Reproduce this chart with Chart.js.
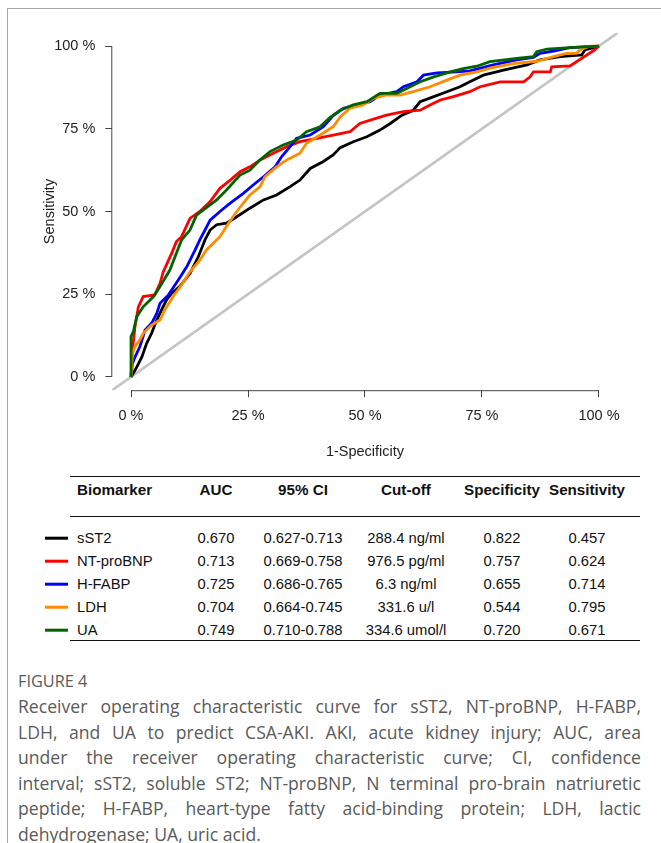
<!DOCTYPE html>
<html>
<head>
<meta charset="utf-8">
<script src="https://cdn.jsdelivr.net/npm/chart.js@4.4.1/dist/chart.umd.min.js"></script>
<style>
  html,body{margin:0;padding:0;background:#fff;}
  body{width:661px;height:843px;position:relative;overflow:hidden;font-family:"Liberation Sans",Arial,sans-serif;}
  #frame{position:absolute;left:7px;top:8px;right:-5px;bottom:-5px;border-top:1px solid #a8a8a8;border-left:1px solid #a8a8a8;}
  #rocChart{position:absolute;left:0;top:0;}
  .rule{position:absolute;left:70px;width:570px;height:0;border-top:1.6px solid #111;}
  .cell{position:absolute;font-size:14.8px;color:#111;line-height:18px;white-space:nowrap;transform:translateY(-50%);}
  .hd{font-weight:bold;font-size:15.2px;}
  .c{transform:translate(-50%,-50%);}
  .key{position:absolute;left:45px;width:23px;height:2.6px;transform:translateY(-50%);}
  #figLabel{position:absolute;left:18px;top:671px;line-height:20px;font-family:"Open Sans",sans-serif;font-size:16.3px;color:#5a5a5a;}
  #caption{position:absolute;left:18px;top:694px;width:623px;font-family:"Open Sans",sans-serif;font-size:17.6px;line-height:25.6px;color:#5a5a5a;}
  #caption div{text-align:justify;text-align-last:justify;white-space:nowrap;}
  #caption div:last-child{text-align-last:left;}
</style>
</head>
<body>
<div id="frame"></div>
<canvas id="rocChart" width="661" height="470"></canvas>
<div id="table"></div>
<div id="figLabel">FIGURE 4</div>
<div id="caption">
  <div>Receiver operating characteristic curve for sST2, NT-proBNP, H-FABP,</div>
  <div>LDH, and UA to predict CSA-AKI. AKI, acute kidney injury; AUC, area</div>
  <div>under the receiver operating characteristic curve; CI, confidence</div>
  <div>interval; sST2, soluble ST2; NT-proBNP, N terminal pro-brain natriuretic</div>
  <div>peptide; H-FABP, heart-type fatty acid-binding protein; LDH, lactic</div>
  <div>dehydrogenase; UA, uric acid.</div>
</div>
<script>
// biomarkers, in legend order
const markers = ['sST2','NT-proBNP','H-FABP','LDH','UA'];
const colors = ['#000000','#ff0000','#0000ff','#ff8c00','#006400'];

// ROC curves (1-specificity, sensitivity)
const sst2X = [0,0.0085,0.016,0.023,0.033,0.044,0.055,0.065,0.076,0.087,0.104,0.126,0.144,0.158,0.169,0.183,0.204,0.226,0.254,0.283,0.311,0.340,0.361,0.383,0.411,0.432,0.447,0.475,0.504,0.532,0.554,0.579,0.603,0.618,0.647,0.675,0.703,0.724,0.753,0.796,0.846,0.874,0.917,0.963,0.970,1.0];
const sst2Y = [0,0.02,0.04,0.06,0.10,0.132,0.172,0.202,0.233,0.253,0.273,0.313,0.364,0.414,0.444,0.460,0.465,0.484,0.510,0.535,0.550,0.575,0.595,0.630,0.651,0.671,0.693,0.711,0.726,0.746,0.766,0.791,0.806,0.832,0.847,0.862,0.877,0.892,0.912,0.927,0.943,0.958,0.968,0.973,0.988,1.0];

const bnpX = [0,0.003,0.0085,0.0157,0.026,0.051,0.062,0.069,0.087,0.097,0.108,0.126,0.147,0.169,0.190,0.212,0.233,0.254,0.276,0.304,0.333,0.361,0.397,0.432,0.468,0.489,0.525,0.546,0.582,0.618,0.639,0.661,0.689,0.724,0.746,0.789,0.839,0.853,0.860,0.896,0.899,0.938,0.991,1.0];
const bnpY = [0,0.08,0.152,0.212,0.243,0.248,0.283,0.318,0.374,0.409,0.424,0.479,0.500,0.530,0.570,0.595,0.620,0.635,0.656,0.676,0.696,0.711,0.721,0.731,0.741,0.766,0.782,0.791,0.802,0.806,0.822,0.837,0.847,0.862,0.877,0.892,0.892,0.907,0.922,0.922,0.937,0.940,0.988,1.0];

const fabpX = [0,0.003,0.0085,0.019,0.030,0.044,0.055,0.062,0.080,0.101,0.119,0.137,0.147,0.158,0.169,0.190,0.212,0.240,0.261,0.283,0.308,0.322,0.340,0.354,0.383,0.411,0.432,0.454,0.482,0.511,0.532,0.568,0.582,0.611,0.625,0.654,0.696,0.724,0.774,0.824,0.860,0.874,0.903,0.938,1.0];
const fabpY = [0,0.04,0.06,0.092,0.142,0.162,0.192,0.223,0.248,0.293,0.333,0.384,0.414,0.444,0.474,0.500,0.525,0.555,0.580,0.605,0.635,0.666,0.696,0.721,0.731,0.756,0.790,0.812,0.822,0.832,0.852,0.862,0.877,0.892,0.912,0.919,0.922,0.925,0.943,0.958,0.966,0.978,0.985,0.995,1.0];

const ldhX = [0,0.003,0.0085,0.019,0.026,0.044,0.062,0.072,0.090,0.108,0.126,0.147,0.161,0.190,0.208,0.226,0.240,0.254,0.276,0.286,0.311,0.333,0.361,0.375,0.404,0.432,0.447,0.468,0.496,0.518,0.546,0.575,0.603,0.639,0.675,0.703,0.739,0.767,0.817,0.867,0.903,0.931,0.952,0.959,0.981,1.0];
const ldhY = [0,0.07,0.092,0.112,0.132,0.157,0.172,0.202,0.243,0.278,0.318,0.353,0.384,0.424,0.464,0.500,0.525,0.550,0.575,0.605,0.635,0.656,0.676,0.706,0.731,0.756,0.786,0.812,0.822,0.842,0.852,0.852,0.862,0.877,0.897,0.912,0.922,0.933,0.947,0.954,0.968,0.978,0.978,0.988,1.0,1.0];

const uaX = [0,0,0.005,0.0122,0.026,0.048,0.062,0.083,0.097,0.108,0.126,0.140,0.154,0.183,0.204,0.233,0.254,0.276,0.297,0.325,0.354,0.375,0.404,0.425,0.447,0.475,0.504,0.532,0.568,0.589,0.618,0.647,0.682,0.710,0.739,0.767,0.824,0.860,0.867,0.889,0.938,1.0];
const uaY = [0,0.122,0.137,0.182,0.212,0.243,0.273,0.323,0.374,0.414,0.444,0.489,0.504,0.535,0.565,0.610,0.625,0.656,0.681,0.701,0.716,0.741,0.756,0.784,0.806,0.822,0.832,0.857,0.857,0.872,0.892,0.907,0.922,0.932,0.939,0.953,0.963,0.968,0.983,0.991,0.995,1.0];

// chance line (y = x) across the whole plot region
const chanceLine = [-0.04, 1.04];
const axisTicks = [0, 0.25, 0.5, 0.75, 1];

// table
const aucVals = ['0.670','0.713','0.725','0.704','0.749'];
const ciVals = ['0.627-0.713','0.669-0.758','0.686-0.765','0.664-0.745','0.710-0.788'];
const cutoffs = ['288.4 ng/ml','976.5 pg/ml','6.3 ng/ml','331.6 u/l','334.6 umol/l'];
const specVals = ['0.822','0.757','0.655','0.544','0.720'];
const sensVals = ['0.457','0.624','0.714','0.795','0.671'];

function pts(xs, ys){ return xs.map((x,i)=>({x:x, y:ys[i]})); }

const curves = [[sst2X,sst2Y],[bnpX,bnpY],[fabpX,fabpY],[ldhX,ldhY],[uaX,uaY]];
const datasets = curves.map((c,i)=>({
  label: markers[i],
  data: pts(c[0], c[1]),
  borderColor: colors[i],
  borderWidth: 2.8,
  pointRadius: 0,
  tension: 0,
  order: 5 - i
}));
datasets.push({
  label: 'chance',
  data: chanceLine.map(v=>({x:v, y:v})),
  borderColor: '#c4c4c4',
  borderWidth: 2.6,
  pointRadius: 0,
  order: 10
});

// R style axes: the line only spans the 0..1 ticks
const rAxes = {
  id: 'rAxes',
  afterDraw(chart){
    const {ctx, chartArea, scales:{x, y}} = chart;
    ctx.save();
    ctx.strokeStyle = '#444';
    ctx.lineWidth = 1;
    ctx.beginPath();
    ctx.moveTo(x.getPixelForValue(0), chartArea.bottom + 0.5);
    ctx.lineTo(x.getPixelForValue(1), chartArea.bottom + 0.5);
    ctx.moveTo(chartArea.left - 0.5, y.getPixelForValue(0));
    ctx.lineTo(chartArea.left - 0.5, y.getPixelForValue(1));
    ctx.stroke();
    ctx.restore();
  }
};

const pct = v => Math.round(v * 100) + ' %';
const axisFont = {family: '"Liberation Sans", Arial, sans-serif', size: 14.5};

new Chart(document.getElementById('rocChart'), {
  type: 'line',
  data: {datasets},
  options: {
    responsive: false,
    animation: false,
    layout: {padding: {left: 0, right: 43.3, top: 32.8, bottom: 0}},
    plugins: {legend: {display: false}, tooltip: {enabled: false}},
    scales: {
      x: {
        type: 'linear', min: -0.04, max: 1.04,
        afterBuildTicks: s => { s.ticks = axisTicks.map(v=>({value:v})); },
        afterFit: s => { s.height = 79.8; },
        grid: {drawOnChartArea: false, drawTicks: true, tickLength: 7, color: '#444'},
        border: {display: false},
        ticks: {callback: pct, font: axisFont, color: '#222', padding: 10, maxRotation: 0},
        title: {display: true, text: '1-Specificity', font: axisFont, color: '#222', padding: {top: 0, bottom: 9.3}}
      },
      y: {
        type: 'linear', min: -0.04, max: 1.04,
        afterBuildTicks: s => { s.ticks = axisTicks.map(v=>({value:v})); },
        afterFit: s => { s.width = 112.3; },
        grid: {drawOnChartArea: false, drawTicks: true, tickLength: 7, color: '#444'},
        border: {display: false},
        ticks: {callback: pct, font: axisFont, color: '#222', padding: 10},
        title: {display: true, text: 'Sensitivity', font: axisFont, color: '#222', padding: {top: 41.3, bottom: 0}}
      }
    }
  },
  plugins: [rAxes]
});

// table below the plot
const table = document.getElementById('table');
const colX = [77, 216, 303, 406, 502, 587];
const headers = ['Biomarker','AUC','95% CI','Cut-off','Specificity','Sensitivity'];
const headerY = 490;
const rowY = [538, 561, 584, 607, 630];
const ruleY = [476, 516, 640];

function addCell(text, x, y, cls){
  const d = document.createElement('div');
  d.className = 'cell ' + cls;
  d.style.left = x + 'px';
  d.style.top = y + 'px';
  d.textContent = text;
  table.appendChild(d);
}
ruleY.forEach(y=>{
  const r = document.createElement('div');
  r.className = 'rule';
  r.style.top = y + 'px';
  table.appendChild(r);
});
headers.forEach((h,i)=>addCell(h, colX[i], headerY, i ? 'hd c' : 'hd'));
markers.forEach((m,i)=>{
  const k = document.createElement('div');
  k.className = 'key';
  k.style.top = rowY[i] + 'px';
  k.style.background = colors[i];
  table.appendChild(k);
  addCell(m, colX[0], rowY[i], '');
  addCell(aucVals[i], colX[1], rowY[i], 'c');
  addCell(ciVals[i], colX[2], rowY[i], 'c');
  addCell(cutoffs[i], colX[3], rowY[i], 'c');
  addCell(specVals[i], colX[4], rowY[i], 'c');
  addCell(sensVals[i], colX[5], rowY[i], 'c');
});
</script>
</body>
</html>
